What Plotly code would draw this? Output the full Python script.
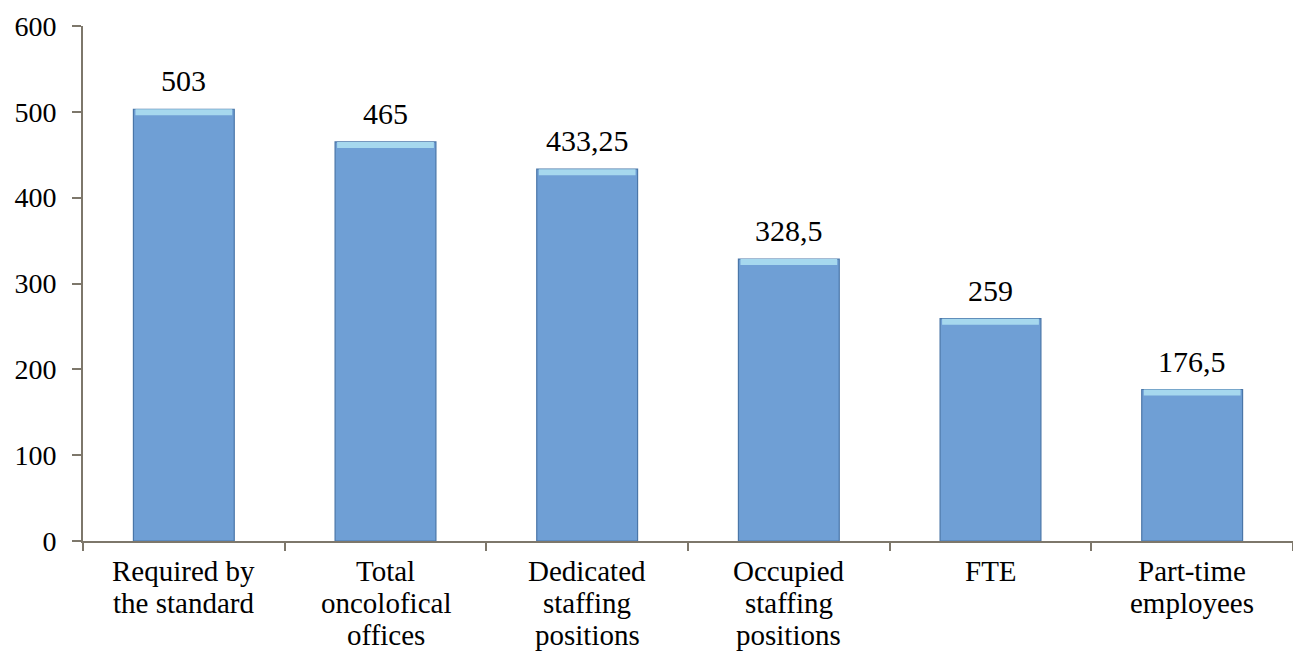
import plotly.graph_objects as go

categories = ["Required by the standard", "Total oncolofical offices",
              "Dedicated staffing positions", "Occupied staffing positions",
              "FTE", "Part-time employees"]
category_lines = [["Required by", "the standard"], ["Total", "oncolofical", "offices"],
                  ["Dedicated", "staffing", "positions"], ["Occupied", "staffing", "positions"],
                  ["FTE"], ["Part-time", "employees"]]
values = [503, 465, 433.25, 328.5, 259, 176.5]
value_labels = ["503", "465", "433,25", "328,5", "259", "176,5"]
y_ticks = [0, 100, 200, 300, 400, 500, 600]

FONT = "Liberation Serif"
AXIS = "#7d776b"

fig = go.Figure()
fig.add_trace(go.Bar(
    x=categories, y=values, width=0.5,
    marker=dict(color="#6f9fd5", line=dict(color="#4a76a8", width=1.2)),
    showlegend=False, hoverinfo="skip",
))
# light bevel strip at the top of each bar
strip = 7
fig.add_trace(go.Bar(
    x=categories, y=[strip] * len(values), base=[v - strip for v in values], width=0.48,
    marker=dict(color="#a6d8ee", line=dict(width=0)),
    showlegend=False, hoverinfo="skip",
))

annotations = []
for cat, v, lab in zip(categories, values, value_labels):
    annotations.append(dict(x=cat, y=v, xref="x", yref="y", text=lab, showarrow=False,
                            yanchor="bottom", yshift=10,
                            font=dict(family=FONT, size=30, color="black")))
for cat, lines in zip(categories, category_lines):
    for i, line in enumerate(lines):
        annotations.append(dict(x=cat, y=0, xref="x", yref="y", text=line, showarrow=False,
                                yanchor="middle", yshift=-(30 + 32 * i), borderpad=0,
                                font=dict(family=FONT, size=29, color="black")))

fig.update_layout(
    barmode="overlay",
    width=1293, height=651,
    margin=dict(l=83, r=0, t=26, b=110),
    plot_bgcolor="white", paper_bgcolor="white",
    font=dict(family=FONT, size=28, color="black"),
    annotations=annotations,
)
fig.update_xaxes(
    showline=True, linecolor=AXIS, linewidth=2,
    ticks="outside", tickson="boundaries", ticklen=8, tickcolor=AXIS, tickwidth=2,
    showticklabels=False, showgrid=False,
)
fig.update_yaxes(
    range=[0, 600], tickvals=y_ticks,
    showline=True, linecolor=AXIS, linewidth=2,
    ticks="outside", ticklen=9, tickcolor=AXIS, tickwidth=2, ticklabelstandoff=10,
    tickfont=dict(family=FONT, size=28, color="black"),
    showgrid=False, zeroline=False,
)
fig.write_html("out.html")
